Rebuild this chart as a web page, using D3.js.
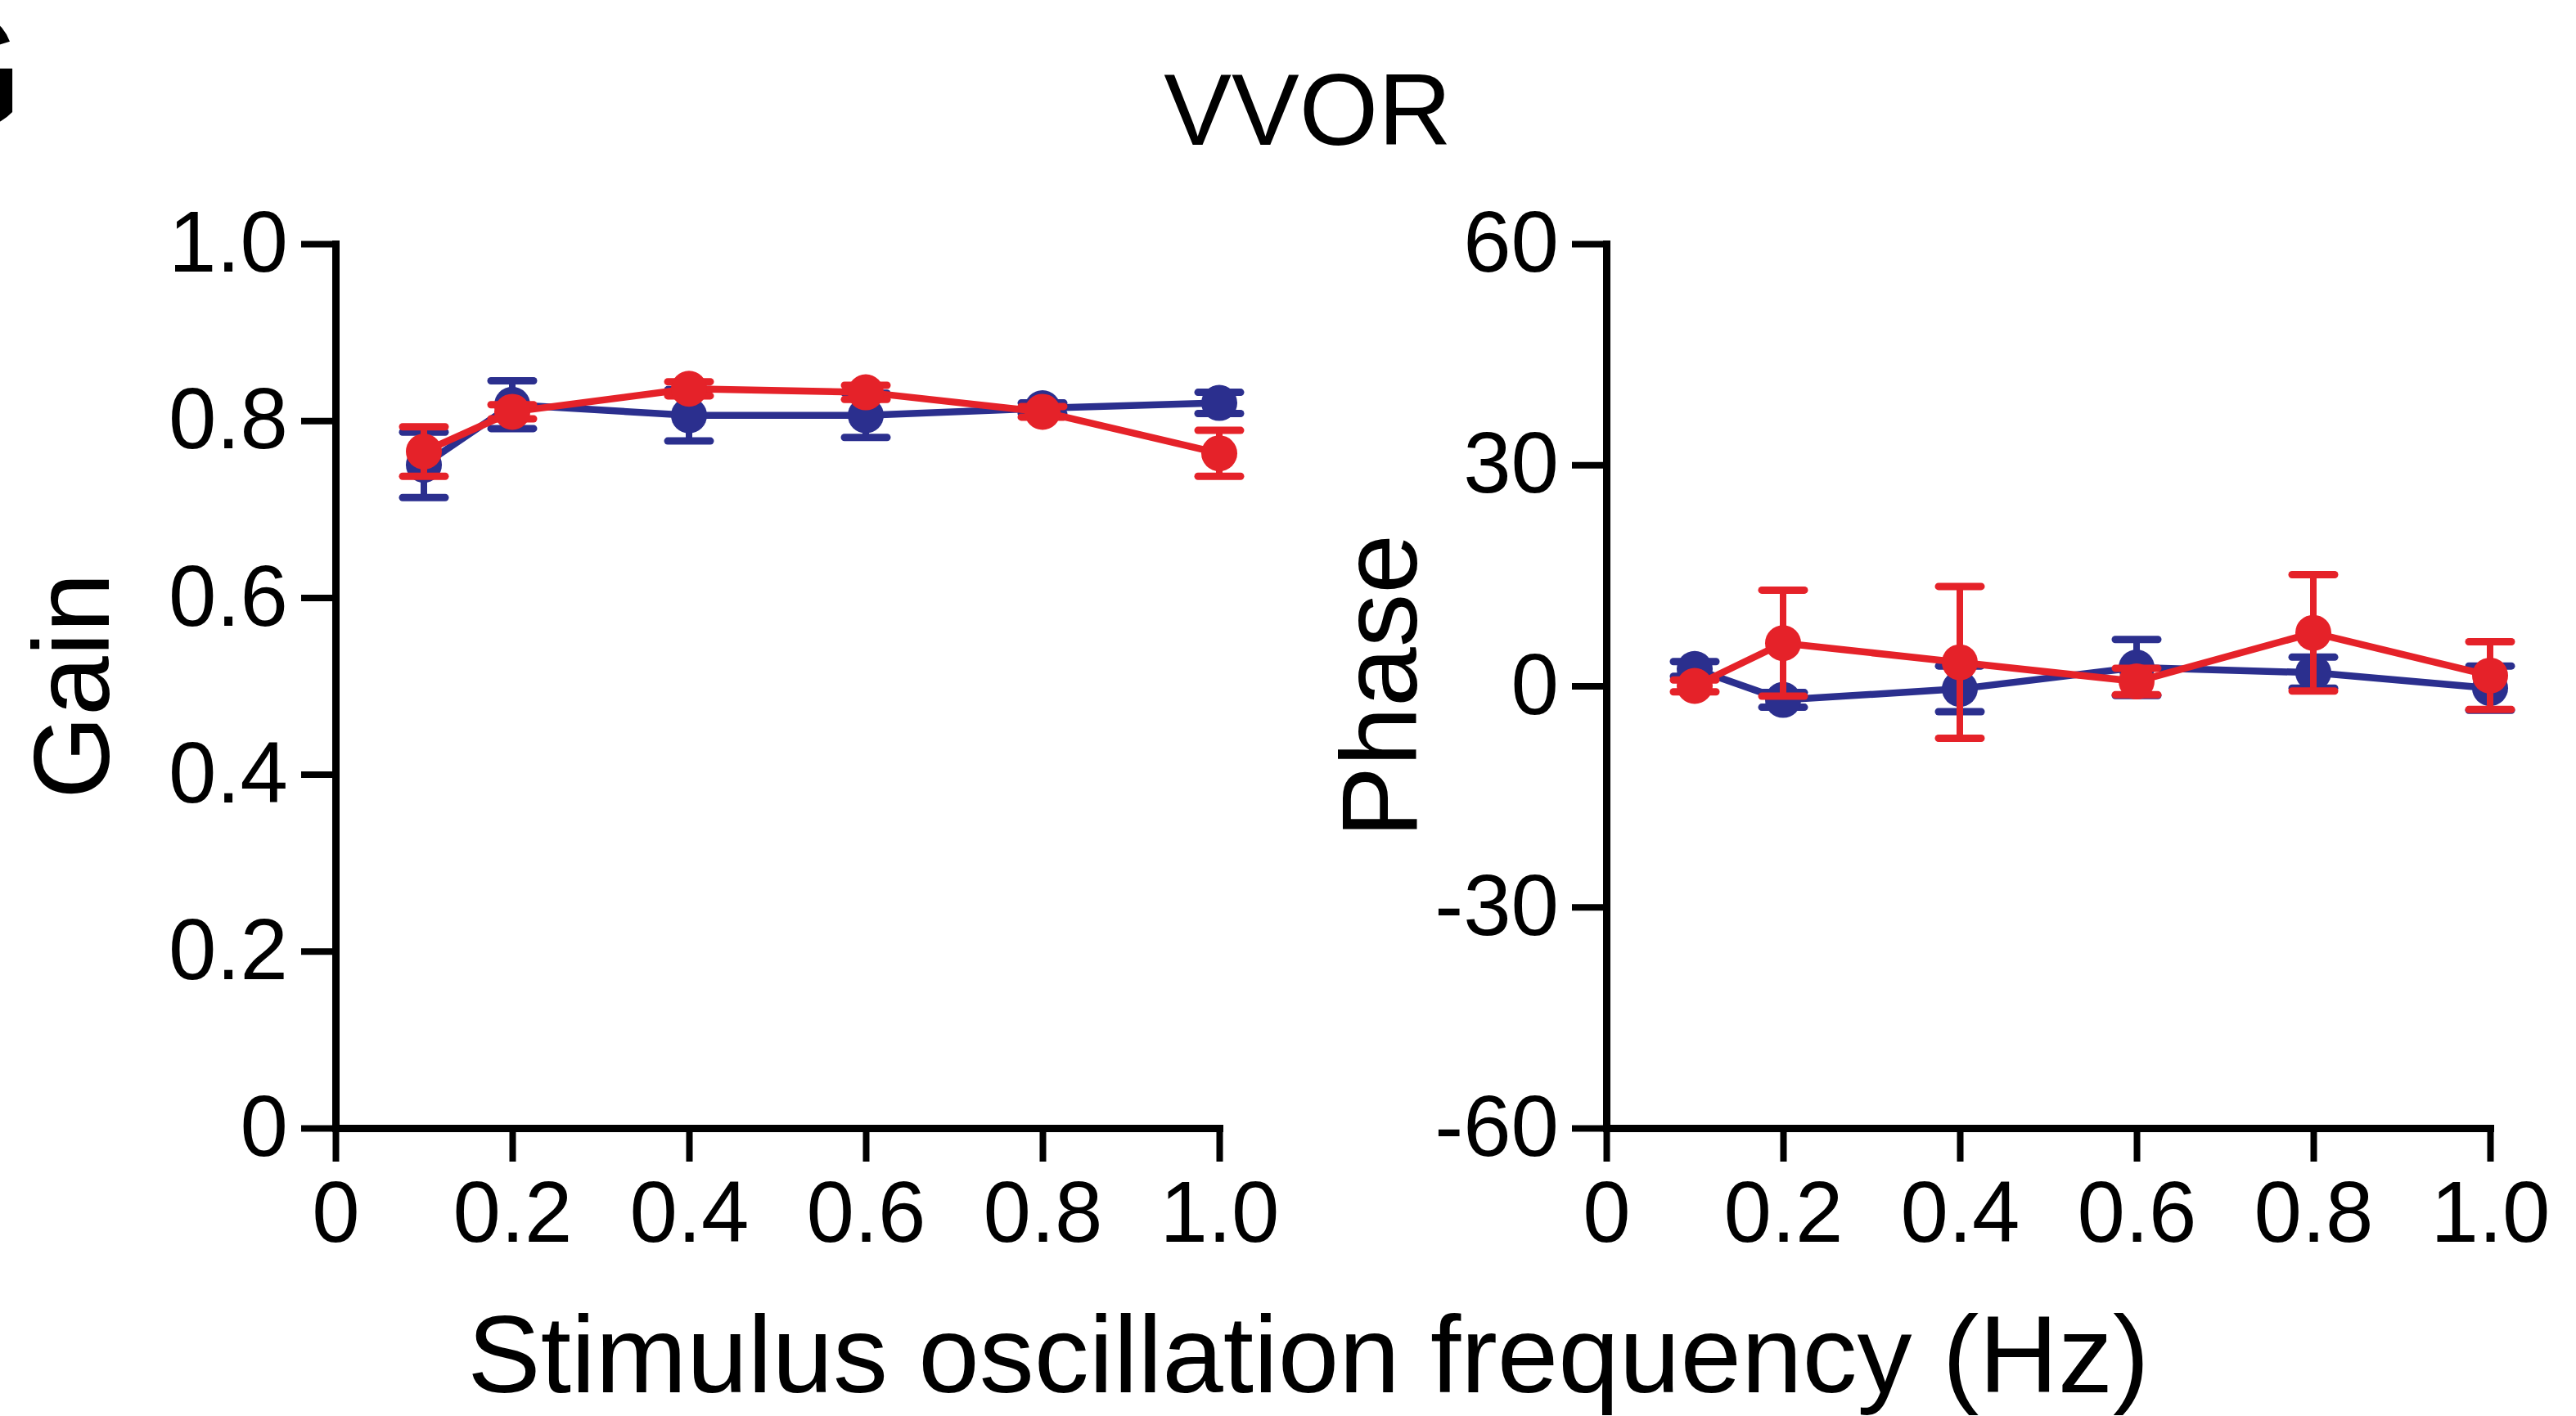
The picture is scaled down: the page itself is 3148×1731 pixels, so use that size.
<!DOCTYPE html>
<html>
<head>
<meta charset="utf-8">
<script src="https://cdn.jsdelivr.net/npm/d3@7"></script>
<style>
  html, body { margin: 0; padding: 0; background: #fff; }
  svg { display: block; }
  text { font-family: "Liberation Sans", Arial, Helvetica, sans-serif; fill: #000; }
</style>
</head>
<body>
<svg id="chart" width="3148" height="1731"></svg>
<script>
// Stimulus frequencies (Hz)
const freqs = [0.1, 0.2, 0.4, 0.6, 0.8, 1.0];

// VVOR gain, mean and SEM per group
const gainBlue    = [0.750, 0.818, 0.806, 0.806, 0.814, 0.820];
const gainBlueErr = [0.037, 0.027, 0.029, 0.025, 0.006, 0.012];
const gainRed     = [0.765, 0.810, 0.836, 0.832, 0.810, 0.763];
const gainRedErr  = [0.028, 0.008, 0.008, 0.008, 0.006, 0.026];

// VVOR phase (deg), mean and SEM per group
const phaseBlue    = [2.3, -1.9, -0.4, 2.5, 1.8, -0.3];
const phaseBlueErr = [1.0, 1.0, 3.1, 3.8, 2.1, 3.0];
const phaseRed     = [0.0, 5.8, 3.2, 0.6, 7.2, 1.4];
const phaseRedErr  = [0.8, 7.2, 10.3, 1.8, 7.9, 4.6];

// Tick values and labels
const xTicks = [0, 0.2, 0.4, 0.6, 0.8, 1.0];
const xTickLabels = ["0", "0.2", "0.4", "0.6", "0.8", "1.0"];
const gainTicks = [0, 0.2, 0.4, 0.6, 0.8, 1.0];
const gainTickLabels = ["0", "0.2", "0.4", "0.6", "0.8", "1.0"];
const phaseTicks = [-60, -30, 0, 30, 60];
const phaseTickLabels = ["-60", "-30", "0", "30", "60"];

const BLUE = "#2b2f8e";
const RED = "#e52229";

const svg = d3.select("#chart");
svg.append("rect").attr("width", 3148).attr("height", 1731).attr("fill", "#fff");

const TOP = 298, BOTTOM = 1379;
const AXIS_W = 9, TICK = 42;

function drawPanel(opts) {
  const x = d3.scaleLinear().domain([0, 1]).range([opts.left, opts.left + 1080]);
  const y = d3.scaleLinear().domain(opts.yDomain).range([BOTTOM, TOP]);
  const g = svg.append("g");

  // axes
  const ax = g.append("g").attr("transform", `translate(0,${BOTTOM})`)
    .call(d3.axisBottom(x).tickValues(xTicks).tickSize(41).tickSizeOuter(0).tickPadding(23)
      .tickFormat((d, i) => xTickLabels[i]));
  const ay = g.append("g").attr("transform", `translate(${opts.left},0)`)
    .call(d3.axisLeft(y).tickValues(opts.yTicks).tickSize(TICK).tickSizeOuter(0).tickPadding(16)
      .tickFormat((d, i) => opts.yTickLabels[i]));
  [ax, ay].forEach(a => {
    a.select(".domain").attr("stroke", "#000").attr("stroke-width", AXIS_W).attr("stroke-linecap", "square");
    a.selectAll(".tick line").attr("stroke", "#000").attr("stroke-width", 8);
    a.selectAll(".tick text").style("font-size", "105px").attr("fill", "#000");
  });

  // series: blue first, red on top
  opts.series.forEach(s => {
    const pts = freqs.map((f, i) => ({ f, v: s.values[i], e: s.errs[i] }));
    const sg = g.append("g");
    sg.append("path").datum(pts)
      .attr("fill", "none").attr("stroke", s.color).attr("stroke-width", 8.5)
      .attr("stroke-linejoin", "round")
      .attr("d", d3.line().x(d => x(d.f)).y(d => y(d.v)));
    const eb = sg.selectAll("g.err").data(pts).join("g").attr("class", "err");
    eb.append("line")
      .attr("x1", d => x(d.f)).attr("x2", d => x(d.f))
      .attr("y1", d => y(d.v - d.e)).attr("y2", d => y(d.v + d.e))
      .attr("stroke", s.color).attr("stroke-width", 8);
    [-1, 1].forEach(sign => {
      eb.append("line")
        .attr("x1", d => x(d.f) - 26).attr("x2", d => x(d.f) + 26)
        .attr("y1", d => y(d.v + sign * d.e)).attr("y2", d => y(d.v + sign * d.e))
        .attr("stroke", s.color).attr("stroke-width", 9).attr("stroke-linecap", "round");
    });
    sg.selectAll("circle").data(pts).join("circle")
      .attr("cx", d => x(d.f)).attr("cy", d => y(d.v)).attr("r", 22)
      .attr("fill", s.color);
  });

  // y title
  svg.append("text")
    .attr("transform", `translate(${opts.titleX},${(TOP + BOTTOM) / 2}) rotate(-90)`)
    .attr("text-anchor", "middle")
    .style("font-size", "131px")
    .text(opts.yTitle);
}

drawPanel({
  left: 410, yDomain: [0, 1], yTicks: gainTicks, yTickLabels: gainTickLabels,
  yTitle: "Gain", titleX: 133,
  series: [
    { values: gainBlue, errs: gainBlueErr, color: BLUE },
    { values: gainRed, errs: gainRedErr, color: RED }
  ]
});

drawPanel({
  left: 1963, yDomain: [-60, 60], yTicks: phaseTicks, yTickLabels: phaseTickLabels,
  yTitle: "Phase", titleX: 1731,
  series: [
    { values: phaseBlue, errs: phaseBlueErr, color: BLUE },
    { values: phaseRed, errs: phaseRedErr, color: RED }
  ]
});

// panel letter (sits at the page's left edge)
svg.append("text").attr("x", 28).attr("y", 160).attr("text-anchor", "end")
  .style("font-size", "210px").style("font-weight", "bold").text("G");

// chart title
svg.append("text").attr("x", 1598).attr("y", 177).attr("text-anchor", "middle")
  .style("font-size", "124px").text("VVOR");

// shared x title
svg.append("text").attr("x", 1599).attr("y", 1702).attr("text-anchor", "middle")
  .style("font-size", "134px").text("Stimulus oscillation frequency (Hz)");
</script>
</body>
</html>
